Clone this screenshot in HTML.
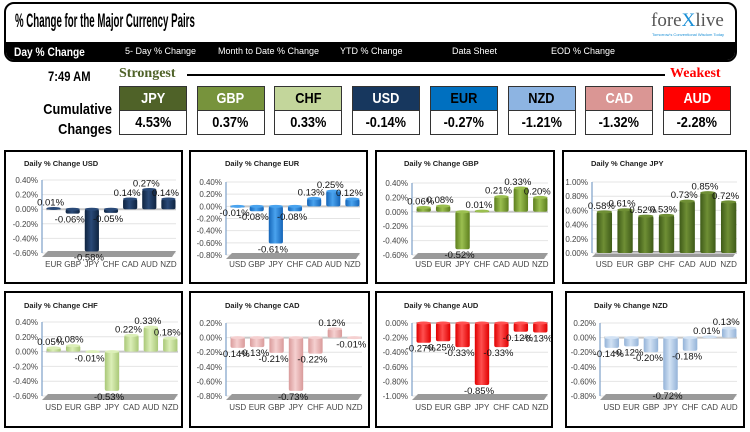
<!DOCTYPE html>
<html><head><meta charset="utf-8">
<style>
body{margin:0;width:750px;height:432px;background:#fff;position:relative;overflow:hidden;font-family:"Liberation Sans",sans-serif}
.abs{position:absolute}
#hdr{left:4px;top:2px;width:729px;height:56px;border:2px solid #000;border-radius:10px;overflow:hidden;background:#fff}
#strip{left:0;top:38px;width:729px;height:20px;background:#000}
.tab{position:absolute;top:4px;color:#fff;font-size:9px;white-space:nowrap}
.box{position:absolute;width:66px;border:1px solid #333}
.bh{height:23px;text-align:center;font-weight:bold;font-size:15px;line-height:23px;color:#fff;border-bottom:1px solid #333}
.bv{height:23px;text-align:center;font-weight:bold;font-size:15px;line-height:23px;color:#000;background:#fff}
.bh span,.bv span{display:inline-block;transform:scaleX(0.85)}
.panel{position:absolute;border:2px solid #000;background:#fff}
</style></head><body>
<div id="hdr" class="abs">
 <div class="abs" style="left:9px;top:7px;font-weight:bold;font-size:19px;transform:scaleX(0.51);transform-origin:left;white-space:nowrap">% Change for the Major Currency Pairs</div>
 <div class="abs" style="left:645px;top:6px;font-family:'Liberation Serif',serif;font-size:19px;color:#555">fore<span style="color:#1a8fd6">X</span>live</div>
 <div class="abs" style="left:646px;top:28px;font-size:4px;color:#1a8fd6">Tomorrow's Conventional Wisdom Today</div>
 <div id="strip" class="abs">
  <div class="tab" style="left:8px;top:3px;font-size:12px;font-weight:bold;transform:scaleX(0.85);transform-origin:left">Day % Change</div>
  <div class="tab" style="left:119px">5- Day % Change</div>
  <div class="tab" style="left:212px">Month to Date % Change</div>
  <div class="tab" style="left:334px">YTD % Change</div>
  <div class="tab" style="left:446px">Data Sheet</div>
  <div class="tab" style="left:545px">EOD % Change</div>
 </div>
</div>
<div class="abs" style="left:48px;top:68px;font-weight:bold;font-size:14px;transform:scaleX(0.8);transform-origin:left">7:49 AM</div>
<div class="abs" style="left:119px;top:66px;font-weight:bold;font-size:14px;color:#4f6228;font-family:'Liberation Serif',serif">Strongest</div>
<div class="abs" style="left:187px;top:74px;width:478px;height:2px;background:#000"></div>
<div class="abs" style="left:670px;top:66px;font-weight:bold;font-size:14px;color:#f00;font-family:'Liberation Serif',serif">Weakest</div>
<div class="abs" style="left:30px;top:100px;font-weight:bold;font-size:15px;text-align:right;line-height:20px;width:82px;transform:scaleX(0.85);transform-origin:right">Cumulative<br>Changes</div>
<div id="boxes"></div>
<div id="panels"></div>
<script>
const rankCodes=["JPY","GBP","CHF","USD","EUR","NZD","CAD","AUD"];
const rankVals=["4.53%","0.37%","0.33%","-0.14%","-0.27%","-1.21%","-1.32%","-2.28%"];
const rankColors=["#4f6228","#77933c","#c3d69b","#17375e","#0070c0","#8db4e2","#da9694","#ff0000"];
const rankText=["#fff","#fff","#000","#fff","#000","#000","#fff","#fff"];
const bx=document.getElementById('boxes');
rankCodes.forEach((c,i)=>{
 const d=document.createElement('div');d.className='box';
 
 
 d.style.left=(119+i*77.7)+'px';d.style.top='86px';
 d.innerHTML='<div class="bh" style="background:'+rankColors[i]+';color:'+rankText[i]+'"><span>'+c+'</span></div><div class="bv"><span>'+rankVals[i]+'</span></div>';
 bx.appendChild(d);
});

// chart data
const titles=["USD","EUR","GBP","JPY","CHF","CAD","AUD","NZD"];
const catsUSD=["EUR","GBP","JPY","CHF","CAD","AUD","NZD"];
const valsUSD=[0.01,-0.06,-0.58,-0.05,0.14,0.27,0.14];
const catsEUR=["USD","GBP","JPY","CHF","CAD","AUD","NZD"];
const valsEUR=[-0.01,-0.08,-0.61,-0.08,0.13,0.25,0.12];
const catsGBP=["USD","EUR","JPY","CHF","CAD","AUD","NZD"];
const valsGBP=[0.06,0.08,-0.52,0.01,0.21,0.33,0.20];
const catsJPY=["USD","EUR","GBP","CHF","CAD","AUD","NZD"];
const valsJPY=[0.58,0.61,0.52,0.53,0.73,0.85,0.72];
const catsCHF=["USD","EUR","GBP","JPY","CAD","AUD","NZD"];
const valsCHF=[0.05,0.08,-0.01,-0.53,0.22,0.33,0.18];
const catsCAD=["USD","EUR","GBP","JPY","CHF","AUD","NZD"];
const valsCAD=[-0.14,-0.13,-0.21,-0.73,-0.22,0.12,-0.01];
const catsAUD=["USD","EUR","GBP","JPY","CHF","CAD","NZD"];
const valsAUD=[-0.27,-0.25,-0.33,-0.85,-0.33,-0.12,-0.13];
const catsNZD=["USD","EUR","GBP","JPY","CHF","CAD","AUD"];
const valsNZD=[-0.14,-0.12,-0.20,-0.72,-0.18,0.01,0.13];
const ticksUSD=[0.4,0.2,0,-0.2,-0.4,-0.6];
const ticksEUR=[0.4,0.2,0,-0.2,-0.4,-0.6,-0.8];
const ticksGBP=[0.4,0.2,0,-0.2,-0.4,-0.6];
const ticksJPY=[1.0,0.8,0.6,0.4,0.2,0];
const ticksCHF=[0.4,0.2,0,-0.2,-0.4,-0.6];
const ticksCAD=[0.2,0,-0.2,-0.4,-0.6,-0.8];
const ticksAUD=[0,-0.2,-0.4,-0.6,-0.8,-1.0];
const ticksNZD=[0.2,0,-0.2,-0.4,-0.6,-0.8];
const allCats=[catsUSD,catsEUR,catsGBP,catsJPY,catsCHF,catsCAD,catsAUD,catsNZD];
const allVals=[valsUSD,valsEUR,valsGBP,valsJPY,valsCHF,valsCAD,valsAUD,valsNZD];
const allTicks=[ticksUSD,ticksEUR,ticksGBP,ticksJPY,ticksCHF,ticksCAD,ticksAUD,ticksNZD];
const colors=[["#0f2440","#2a4a78"],["#1565b8","#4aa3ee"],["#5d7f1e","#9bbf50"],["#3e5a18","#6f8f35"],["#a9c877","#dcefb8"],["#d99a9a","#f5d0d0"],["#e00000","#ff5050"],["#94b3d8","#d2e2f4"]];
// layout: [boxLeft, boxTop, boxW, boxH, plotLeft, plotRight, topTickY, botTickY, catY]
const L=[[4,150,179,134,42,176,180,253,267],[189,150,179,134,226,360,182,255,267],[375,150,180,134,412,548,183,255,267],[562,150,185,134,592,737,182,253,267],
[4,291,179,137,42,178,322,396,410],[189,291,181,137,226,362,323,396,410],[375,291,178,137,412,548,323,396,410],[565,291,180,137,600,737,323,396,410]];
const NS='http://www.w3.org/2000/svg';
const pn=document.getElementById('panels');
function fmt(v){return v.toFixed(2)+'%';}
titles.forEach((t,p)=>{
 const [bl,bt,bw,bh,pl,pr,ty,by,cy]=L[p];
 const cats=allCats[p],vals=allVals[p],ticks=allTicks[p];
 const tmax=ticks[0],tmin=ticks[ticks.length-1];
 const y=v=>ty+(tmax-v)/(tmax-tmin)*(by-ty);
 const div=document.createElement('div');div.className='panel';
 
 
 div.style.left=bl+'px';div.style.top=bt+'px';div.style.width=(bw-4)+'px';div.style.height=(bh-4)+'px';
 pn.appendChild(div);
 const svg=document.createElementNS(NS,'svg');
 svg.setAttribute('width',bw);svg.setAttribute('height',bh);
 svg.style.position='absolute';svg.style.left=(-2)+'px';svg.style.top=(-2)+'px';
 div.appendChild(svg);
 const ox=bl,oy=bt;
 let h='<defs><linearGradient id="g'+p+'" x1="0" x2="1"><stop offset="0" stop-color="'+colors[p][0]+'"/><stop offset="0.45" stop-color="'+colors[p][1]+'"/><stop offset="1" stop-color="'+colors[p][0]+'"/></linearGradient></defs>';
 h+='<text x="'+(bl<200&&bl>100?36:(bl>500&&bl<570&&bt<200?29:(bl<10?20:29)))+'" y="'+(bt<200?16:17)+'" font-size="7.5" font-weight="bold" font-family="Liberation Sans,sans-serif" fill="#222">Daily % Change '+t+'</text>';
 ticks.forEach(v=>{const yy=y(v)-oy;
  h+='<line x1="'+(pl-ox)+'" x2="'+(pr-ox)+'" y1="'+yy+'" y2="'+yy+'" stroke="#e4e4e4" stroke-width="1"/>';
  h+='<text x="'+(pl-ox-4)+'" y="'+(yy+3)+'" text-anchor="end" font-size="8" fill="#444" font-family="Liberation Sans,sans-serif">'+fmt(v)+'</text>';});
 h+='<line x1="'+(pl-ox)+'" x2="'+(pl-ox)+'" y1="'+(ty-oy)+'" y2="'+(by-oy)+'" stroke="#7da0c8" stroke-width="1.2"/>';
 const fy=by-oy;
 h+='<polygon points="'+(pl-ox)+','+(fy+4)+' '+(pl-ox+6)+','+(fy-2)+' '+(pr-ox)+','+(fy-2)+' '+(pr-ox-4)+','+(fy+4)+'" fill="#9a9a9a"/>';
 const zy=y(0)-oy;
 h+='<line x1="'+(pl-ox+4)+'" x2="'+(pr-ox)+'" y1="'+zy+'" y2="'+zy+'" stroke="#c8c8c8" stroke-width="2"/>';
 const slot=(pr-pl)/cats.length,bwid=slot*0.74;
 cats.forEach((c,i)=>{
  const cx=pl-ox+slot*(i+0.5)+2,v=vals[i],y1=Math.min(y(v),y(0))-oy,y2=Math.max(y(v),y(0))-oy;
  h+='<rect x="'+(cx-bwid/2)+'" y="'+y1+'" width="'+bwid+'" height="'+Math.max(y2-y1,1)+'" rx="2" fill="url(#g'+p+')"/>';
  h+='<ellipse cx="'+cx+'" cy="'+y1+'" rx="'+(bwid/2)+'" ry="1.5" fill="'+colors[p][1]+'"/>';
  const ly=v>=0?y1-3:y2+9;
  h+='<text x="'+(cx-3)+'" y="'+ly+'" text-anchor="middle" font-size="9.5" fill="#111" font-family="Liberation Sans,sans-serif">'+fmt(v)+'</text>';
  h+='<text x="'+cx+'" y="'+(cy-oy)+'" text-anchor="middle" font-size="8" fill="#444" font-family="Liberation Sans,sans-serif">'+c+'</text>';
 });
 svg.innerHTML=h;
});
</script>
</body></html>
